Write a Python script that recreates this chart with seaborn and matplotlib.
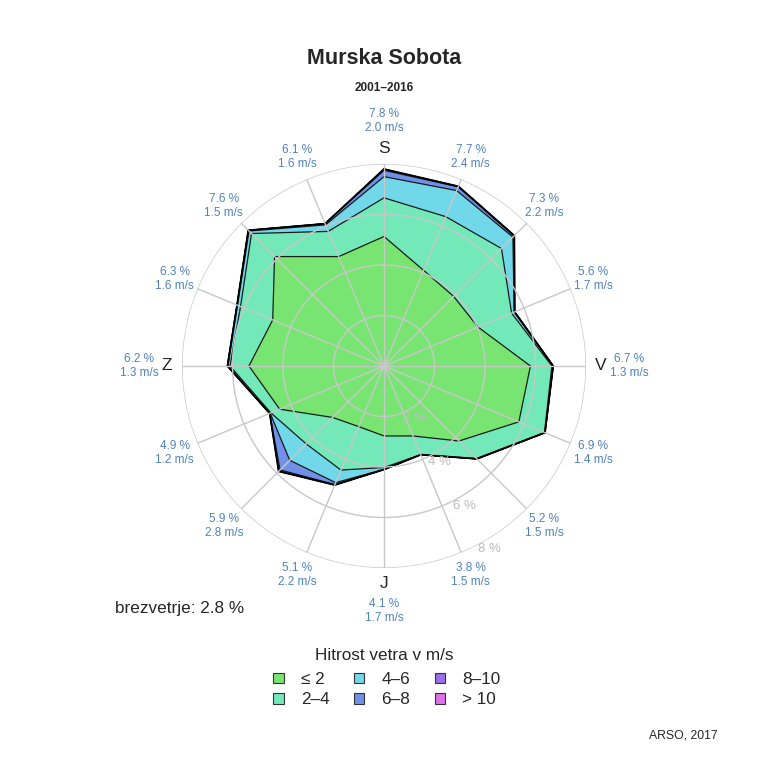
import numpy as np
import matplotlib
matplotlib.use("Agg")
import matplotlib.pyplot as plt
from matplotlib.patches import Patch
import seaborn as sns

# wind directions, clockwise from north (Slovene compass letters on the cardinals)
directions = ["S", "SSV", "SV", "VSV", "V", "VJV", "JV", "JJV",
              "J", "JJZ", "JZ", "ZJZ", "Z", "ZSZ", "SZ", "SSZ"]
cardinal_labels = {0: "S", 4: "V", 8: "J", 12: "Z"}

le2 = [5.13, 4.10, 3.90, 4.03, 5.80, 5.78, 4.20, 3.00, 2.77, 2.60, 2.88, 4.47, 5.35, 4.77, 6.13, 4.69]
s2_4 = [1.53, 2.30, 2.68, 1.44, 0.85, 1.10, 0.98, 0.80, 1.25, 1.86, 1.48, 0.38, 0.75, 1.38, 1.29, 1.08]
s4_6 = [0.84, 1.12, 0.64, 0.11, 0.04, 0.02, 0.02, 0.00, 0.07, 0.54, 0.92, 0.03, 0.08, 0.13, 0.14, 0.28]
s6_8 = [0.25, 0.16, 0.06, 0.02, 0.01, 0.00, 0.00, 0.00, 0.01, 0.08, 0.54, 0.02, 0.02, 0.02, 0.04, 0.05]
s8_10 = [0.04, 0.02, 0.02, 0.00, 0.00, 0.00, 0.00, 0.00, 0.00, 0.02, 0.06, 0.00, 0.00, 0.00, 0.00, 0.00]
gt10 = [0.01, 0.00, 0.00, 0.00, 0.00, 0.00, 0.00, 0.00, 0.00, 0.00, 0.02, 0.00, 0.00, 0.00, 0.00, 0.00]

# labelled totals and mean speeds per direction
total_pct = [7.8, 7.7, 7.3, 5.6, 6.7, 6.9, 5.2, 3.8, 4.1, 5.1, 5.9, 4.9, 6.2, 6.3, 7.6, 6.1]
mean_speed = [2.0, 2.4, 2.2, 1.7, 1.3, 1.4, 1.5, 1.5, 1.7, 2.2, 2.8, 1.2, 1.3, 1.6, 1.5, 1.6]

class_labels = ["≤ 2", "2–4", "4–6", "6–8", "8–10", "> 10"]
class_colors = ["#78E573", "#73E9BA", "#71D8E9", "#7190E8", "#9A70E8", "#DE70E8"]
ring_values = [2, 4, 6, 8]
calm = 2.8

sns.set_theme(style="white")
plt.rcParams["font.family"] = ["Liberation Sans", "DejaVu Sans"]

fig = plt.figure(figsize=(7.68, 7.67), dpi=100)
W, H = 768, 767
cx, cy, R = 384, 366, 202
ax = fig.add_axes([(cx - R) / W, (H - cy - R) / H, 2 * R / W, 2 * R / H], projection="polar")
ax.set_theta_zero_location("N")
ax.set_theta_direction(-1)
ax.set_ylim(0, 8)
ax.set_xticks([])
ax.set_yticks([])
ax.grid(False)
ax.spines["polar"].set_visible(False)
ax.set_facecolor("none")

theta = np.deg2rad(np.arange(len(directions)) * 22.5)
theta_c = np.append(theta, theta[0])
cum = np.cumsum(np.vstack([le2, s2_4, s4_6, s6_8, s8_10, gt10]), axis=0)

# stacked areas, outermost first
for k in range(len(class_labels) - 1, -1, -1):
    r = np.append(cum[k], cum[k][0])
    ax.fill(theta_c, r, facecolor=class_colors[k], edgecolor="#1a1a1a", lw=0.9, zorder=2)
r_out = np.append(cum[-1], cum[-1][0])
ax.plot(theta_c, r_out, color="black", lw=1.3, zorder=2.5)

# grid drawn over the areas
grid_col = "#C8C8C8"
circ = np.linspace(0, 2 * np.pi, 361)
for rv in ring_values:
    ax.plot(circ, np.full_like(circ, rv), color=grid_col, lw=1, zorder=3)
for t in theta:
    ax.plot([t, t], [0, 8], color=grid_col, lw=1, zorder=3)
ax.plot([0], [0], "o", color=grid_col, ms=4, zorder=3)

# ring labels
ring_ang = np.deg2rad(150)
for rv in ring_values:
    ax.text(ring_ang, rv + 0.38, f"{rv} %", color="#BDBDBD", fontsize=9.5,
            ha="center", va="center", zorder=4)

# direction labels and per-direction values
lab_col = "#4F81BD"
for i, t in enumerate(theta):
    if i in cardinal_labels:
        ax.text(t, 8.6, cardinal_labels[i], fontsize=12.5, ha="center", va="center")
        rr = 9.7
    else:
        rr = 8.97
    ax.text(t, rr, f"{total_pct[i]:.1f} %\n{mean_speed[i]:.1f} m/s", color=lab_col,
            fontsize=8.5, ha="center", va="center", linespacing=1.2)

fig.text(0.5, 1 - 58 / H, "Murska Sobota", ha="center", va="center", fontsize=15.5, weight="bold")
fig.text(0.5, 1 - 88 / H, "2001–2016", ha="center", va="center", fontsize=8.5, weight="bold")
fig.text(115 / W, 1 - 608 / H, f"brezvetrje: {calm} %", ha="left", va="center", fontsize=12.3)
fig.text(718 / W, 1 - 735 / H, "ARSO, 2017", ha="right", va="center", fontsize=8.8)
fig.text(0.5, 1 - 655 / H, "Hitrost vetra v m/s", ha="center", va="center", fontsize=12.3)

handles = [Patch(facecolor=c, edgecolor="#333333", lw=0.8) for c in class_colors]
fig.legend(handles, class_labels, loc="upper center", bbox_to_anchor=(387 / W, 1 - 672 / H),
           ncol=3, frameon=False, fontsize=12.3, handlelength=0.6, handleheight=0.6,
           handletextpad=1.0, columnspacing=1.45, labelspacing=0.32,
           borderpad=0, borderaxespad=0)

fig.savefig("out.png", dpi=100)
